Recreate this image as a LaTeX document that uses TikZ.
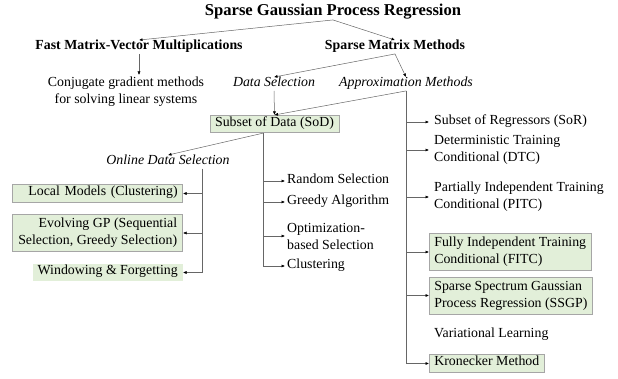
\documentclass[tikz,border=0pt]{standalone}
\usepackage{fontspec}
\setmainfont{Liberation Serif}
\usetikzlibrary{arrows.meta,calc,positioning}
\definecolor{boxgreen}{HTML}{E2EFD9}
\definecolor{boxline}{HTML}{A6A6A6}

\begin{document}
\begin{tikzpicture}[x=1pt,y=-1pt,
    every node/.style={font=\fontsize{13.85}{17}\selectfont, inner sep=2pt},
    line/.style={text height=0.7em, text depth=0.25em},
    head/.style={line, font=\fontsize{13.85}{17}\selectfont\bfseries},
    cat/.style={line, font=\fontsize{13.85}{17}\selectfont\itshape},
    leaf/.style={anchor=west, align=left},
    rleaf/.style={anchor=west, align=left, inner xsep=5pt},
    gbox/.style={fill=boxgreen, draw=boxline, line width=0.6pt, inner xsep=5pt, inner ysep=4pt},
    link/.style={draw=black!60, line width=0.5pt, -{Latex[length=3.5pt,width=3pt,black]}}
  ]
  \useasboundingbox (0,0) rectangle (618,379);

  \node[line, font=\fontsize{16.6}{20}\selectfont\bfseries] (title) at (333,13) {Sparse Gaussian Process Regression};
  \node[head] (fmv) at (139,47) {Fast Matrix-Vector Multiplications};
  \node[head] (smm) at (395,47) {Sparse Matrix Methods};
  \node[align=center] (cg) at (126,92) {Conjugate gradient methods\\for solving linear systems};
  \node[cat] (ds) at (274,84) {Data Selection};
  \node[cat] (am) at (406,84) {Approximation Methods};
  \node[gbox, line] (sod) at (274.5,124) {Subset of Data (SoD)};
  \node[cat] (ods) at (168,162) {Online Data Selection};

  \node[gbox, line, anchor=east, text width=160pt, align=right] (lm) at (183,193.5) {Local Models (Clustering)};
  \node[gbox, anchor=east, minimum width=170pt, align=right] (eg) at (183,233) {Evolving GP (Sequential\\Selection, Greedy Selection)};
  \node[gbox, line, draw=none, anchor=east] (wf) at (183,272.5) {Windowing \& Forgetting};

  \node[leaf, line] (rs) at (285,181) {Random Selection};
  \node[leaf, line] (ga) at (285,202) {Greedy Algorithm};
  \node[leaf] (ob) at (285,236) {Optimization-\\based Selection};
  \node[leaf, line] (cl) at (285,266) {Clustering};

  \node[rleaf, line] (sor) at (429,122) {Subset of Regressors (SoR)};
  \node[rleaf] (dtc) at (429,150) {Deterministic Training\\Conditional (DTC)};
  \node[rleaf] (pitc) at (429,197) {Partially Independent Training\\Conditional (PITC)};
  \node[gbox, rleaf] (fitc) at (429,252) {Fully Independent Training\\Conditional (FITC)};
  \node[gbox, rleaf] (ssgp) at (429,295.5) {Sparse Spectrum Gaussian\\Process Regression (SSGP)};
  \node[rleaf, line] (vl) at (429,335) {Variational Learning};
  \node[gbox, rleaf, line] (kr) at (429,363.5) {Kronecker Method};

  \draw[link] (title.south) -- (fmv.north);
  \draw[link] (title.south) -- (smm.north);
  \draw[link] (fmv.south) -- (fmv.south |- cg.north);
  \draw[link] (smm.south) -- (ds.north);
  \draw[link] (smm.south) -- (am.north);
  \draw[link] (ds.south) -- (sod.north);
  \draw[link] (am.south) -- (sod.north);
  \foreach \n in {sor,dtc,pitc,fitc,ssgp,kr}
    \draw[link] (am.south) |- (\n.west);

  \coordinate (sodb) at ($(sod.south)+(-11,0)$);
  \draw[link] (sodb) -- (ods.north);
  \foreach \n in {rs,ga,ob,cl}
    \draw[link] (sodb) |- (\n.west);

  \coordinate (odsb) at ($(ods.south)+(34,0)$);
  \foreach \n in {lm,eg,wf}
    \draw[link] (odsb) |- (\n.east);
\end{tikzpicture}
\end{document}
